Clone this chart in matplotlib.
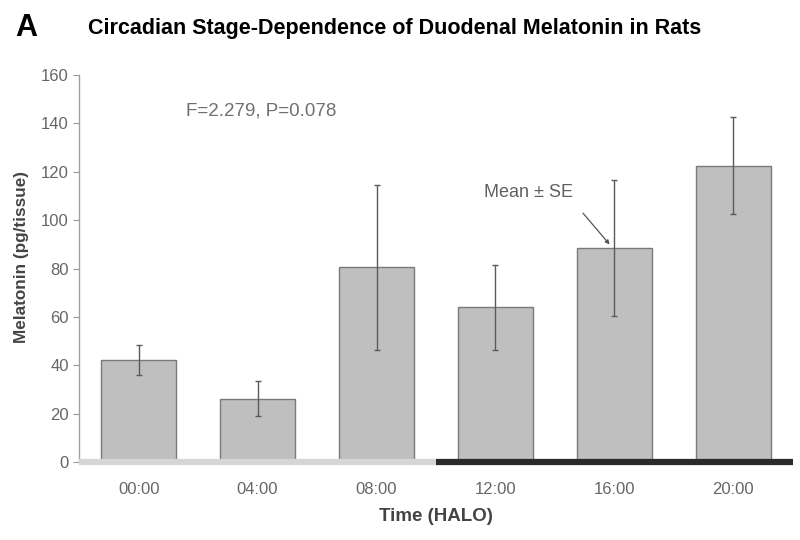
import numpy as np
import matplotlib
matplotlib.use("Agg")
import matplotlib.pyplot as plt

# data
times = ["00:00", "04:00", "08:00", "12:00", "16:00", "20:00"]
melatonin_mean = [42.3, 26.3, 80.5, 64.0, 88.5, 122.5]
melatonin_se = [6.3, 7.2, 34.0, 17.6, 28.2, 20.0]
light_phase = [0, 1, 2]   # light-on span (HALO 0-8)
dark_phase = [3, 4, 5]    # dark span

plt.rcParams['font.family'] = ['Liberation Sans', 'DejaVu Sans']

fig = plt.figure(figsize=(8, 5.4), dpi=100)
ax = fig.add_axes([0.099, 0.144, 0.892, 0.717])

x = np.arange(len(times))
ax.bar(x, melatonin_mean, width=0.63, color='#bfbfbf', edgecolor='#7a7a7a',
       linewidth=1.0, zorder=2)
ax.errorbar(x, melatonin_mean, yerr=melatonin_se, fmt='none', ecolor='#5a5a5a',
            elinewidth=1.0, capsize=2.5, capthick=1.0, zorder=3)

# light / dark bar under the axis
ax.plot([light_phase[0] - 0.5, light_phase[-1] + 0.5], [0, 0], color='#d6d6d6',
        lw=4.5, solid_capstyle='butt', clip_on=False, zorder=4)
ax.plot([dark_phase[0] - 0.5, dark_phase[-1] + 0.5], [0, 0], color='#2a2a2a',
        lw=4.5, solid_capstyle='butt', clip_on=False, zorder=4)

ax.set_xlim(-0.5, 5.5)
ax.set_ylim(0, 160)
ax.set_yticks(np.arange(0, 161, 20))
ax.set_xticks(x)
ax.set_xticklabels(times, fontsize=12, color='#666666')
ax.tick_params(axis='y', labelsize=12, colors='#666666', length=4, width=0.8,
               color='#999999')
ax.tick_params(axis='x', length=0, pad=14)

for s in ['top', 'right', 'bottom']:
    ax.spines[s].set_visible(False)
ax.spines['left'].set_color('#a0a0a0')
ax.spines['left'].set_linewidth(1.0)

ax.set_ylabel('Melatonin (pg/tissue)', fontsize=12.3, fontweight='bold',
              color='#444444')
ax.yaxis.set_label_coords(-0.070, 0.53)
ax.set_xlabel('Time (HALO)', fontsize=13.5, fontweight='bold', color='#444444',
              labelpad=8)

ax.text(0.4, 145.0, 'F=2.279, P=0.078', fontsize=13.5, color='#707070',
        va='center', ha='left')
ax.annotate('Mean \u00b1 SE', xy=(3.96, 90.0), xytext=(2.9, 111.5),
            fontsize=13, color='#606060', ha='left', va='center',
            arrowprops=dict(arrowstyle='-|>', color='#555555', lw=0.9,
                            mutation_scale=6, relpos=(1.0, 0.0),
                            shrinkA=9, shrinkB=0))

fig.text(0.019, 0.948, 'A', fontsize=22, fontweight='bold', va='center')
fig.text(0.11, 0.948, 'Circadian Stage-Dependence of Duodenal Melatonin in Rats',
         fontsize=15.5, fontweight='bold', va='center')

fig.savefig('out.png', dpi=100)
